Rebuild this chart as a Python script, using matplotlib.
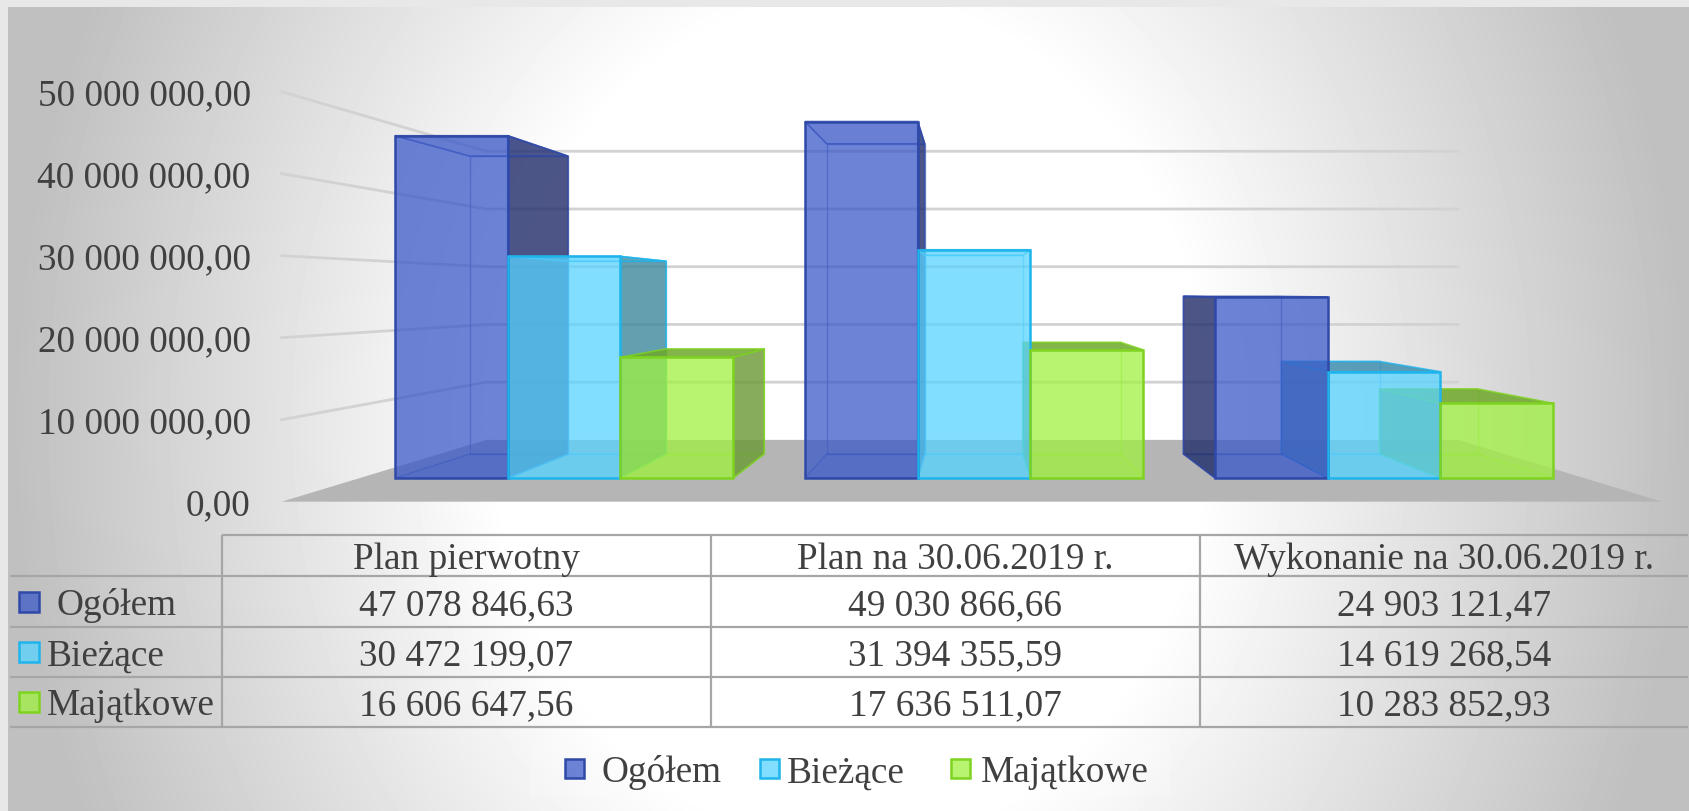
import numpy as np
import matplotlib
matplotlib.use("Agg")
import matplotlib.pyplot as plt
from matplotlib.colors import to_rgba
from matplotlib.patches import Polygon, Rectangle

# ---------- data ----------
categories = ["Plan pierwotny", "Plan na 30.06.2019 r.", "Wykonanie na 30.06.2019 r."]
series_names = ["Ogółem", "Bieżące", "Majątkowe"]
ogolem = [47078846.63, 49030866.66, 24903121.47]
biezace = [30472199.07, 31394355.59, 14619268.54]
majatkowe = [16606647.56, 17636511.07, 10283852.93]
axis_ticks = [0, 10000000, 20000000, 30000000, 40000000, 50000000]

# ---------- style / layout ----------
plt.rcParams["font.family"] = ["Liberation Serif", "DejaVu Serif"]
TXT = "#404040"
FS = 26.8
GRID = "#D2D2D2"
TBL = "#A6A6A6"
front_c = ["#3C5AC8", "#58D3FF", "#A0F140"]
edge_c = ["#2F49A8", "#1FB4EC", "#7ED321"]
side_c = ["#24306C", "#3F8A9E", "#6C9A38"]
top_c = ["#24306C", "#3F8FB0", "#6FA82A"]

W, H = 1690, 812
XV, YV = 972.0, 294.0            # vanishing point
Y0, PX_PER = 479.0, 7.27e-6      # front plane of bars
S_FLOOR, S_BACK, S_WALL = 1.128, 0.87, 0.794
X_L, X_R = 360.0, 1584.0         # floor extent on the bar plane
GROUP_LEFT, GROUP_STEP, BAR_W = 395.0, 410.0, 112.7
TXT_DY = -1


def proj(x, value, s=1.0):
    y = Y0 - value * PX_PER
    return XV + (x - XV) * s, YV + (y - YV) * s


def fmt(v, dec=2):
    s = f"{v:,.{dec}f}"
    return s.replace(",", " ").replace(".", ",")


fig = plt.figure(figsize=(W / 100, H / 100), dpi=100)
ax = fig.add_axes([0, 0, 1, 1])
ax.set_xlim(0, W)
ax.set_ylim(H, 0)
ax.axis("off")

# background gradient
yy, xx = np.mgrid[0:H, 0:W]
t = np.sqrt(((xx - 850) / 840.0) ** 2 + ((yy - 420) / 1000.0) ** 2)
g = 1 - 0.25 * np.clip((t - 0.42) / 0.58, 0, 1)
ax.imshow(g, extent=(0, W, H, 0), cmap="gray", vmin=0, vmax=1, aspect="auto", zorder=0)
ax.add_patch(Rectangle((0, 0), W, 8, fc="#E8E8E8", ec="none", zorder=1))
ax.add_patch(Rectangle((0, 0), 8, H, fc="#E8E8E8", ec="none", zorder=1))

# gridlines and value labels
for v in axis_ticks:
    x1, y1 = proj(X_L, v, S_FLOOR)
    x2, y2 = proj(X_L, v, S_WALL)
    x3, y3 = proj(X_R, v, S_WALL)
    if v > 0:
        ax.plot([x1, x2, x3], [y1, y2, y3], color=GRID, lw=2.0, zorder=2,
                solid_joinstyle="round")
    ax.text(x1 - 31, y1 + TXT_DY, fmt(v), ha="right", va="center_baseline", fontsize=FS,
            color=TXT, zorder=6)

# floor
ax.add_patch(Polygon([proj(X_L, 0, S_FLOOR), proj(X_R, 0, S_FLOOR),
                      proj(X_R, 0, S_WALL), proj(X_L, 0, S_WALL)],
                     closed=True, fc="#B5B5B5", ec="none", zorder=3))

# bars
values = [ogolem, biezace, majatkowe]
bars = []
for i in range(len(categories)):
    for j in range(len(series_names)):
        left = GROUP_LEFT + i * GROUP_STEP + j * BAR_W
        bars.append((left, values[j][i], j))
bars.sort(key=lambda b: -abs(b[0] + BAR_W / 2 - XV))


def face(pts, fc, alpha, ec, z, lw=1.4, ea=1.0):
    ax.add_patch(Polygon(pts, closed=True, facecolor=to_rgba(fc, alpha),
                         edgecolor=to_rgba(ec, ea), lw=lw, zorder=z, joinstyle="miter"))


z = 4.0
for left, v, j in bars:
    r = left + BAR_W
    c, e, sc, tc = front_c[j], edge_c[j], side_c[j], top_c[j]
    fl, fr = proj(left, v), proj(r, v)
    fl0, fr0 = proj(left, 0), proj(r, 0)
    bl, br = proj(left, v, S_BACK), proj(r, v, S_BACK)
    bl0, br0 = proj(left, 0, S_BACK), proj(r, 0, S_BACK)
    face([bl0, br0, br, bl], c, 0.0, e, z, lw=1.0, ea=0.5); z += 0.001
    face([fl0, fr0, br0, bl0], c, 0.12, e, z, lw=1.0, ea=0.5); z += 0.001
    if br[0] > fr[0]:
        face([fr0, br0, br, fr], sc, 0.82, e, z, lw=1.2, ea=0.8); z += 0.001
    if bl[0] < fl[0]:
        face([fl0, bl0, bl, fl], sc, 0.82, e, z, lw=1.2, ea=0.8); z += 0.001
    above = bl[1] < fl[1]
    face([fl, fr, br, bl], tc if above else c, 0.85 if above else 0.1, e, z, lw=1.2, ea=0.8); z += 0.001
    ax.add_patch(Polygon([fl0, fr0, fr, fl], closed=True, fc=to_rgba(c, 0.75), ec="none", zorder=z))
    z += 0.001

# front outlines: the shorter bar's outline lies on top where two bars touch
for left, v, j in sorted(bars, key=lambda b: -b[1]):
    r = left + BAR_W
    ax.add_patch(Polygon([proj(left, 0), proj(r, 0), proj(r, v), proj(left, v)], closed=True,
                         fc="none", ec=edge_c[j], lw=1.8, zorder=z, joinstyle="miter"))
    z += 0.001

# table
col_x = [222, 711, 1200, 1688]
row_y = [536, 577, 628, 678, 728]
tk = dict(color=TBL, lw=1.6, zorder=5, solid_capstyle="butt")
ax.plot([col_x[0], col_x[-1]], [row_y[0]] * 2, **tk)
for y in row_y[1:]:
    ax.plot([10, col_x[-1]], [y, y], **tk)
for x in col_x[:-1]:
    ax.plot([x, x], [row_y[0], row_y[-1]], **tk)

for k, name in enumerate(categories):
    ax.text((col_x[k] + col_x[k + 1]) / 2, (row_y[0] + row_y[1]) / 2 + TXT_DY, name, ha="center",
            va="center_baseline", fontsize=FS, color=TXT, zorder=6)
for r_i, ser in enumerate(values):
    cy = (row_y[r_i + 1] + row_y[r_i + 2]) / 2
    for k, v in enumerate(ser):
        ax.text((col_x[k] + col_x[k + 1]) / 2, cy + TXT_DY, fmt(v), ha="center",
                va="center_baseline", fontsize=FS, color=TXT, zorder=6)
    ax.add_patch(Rectangle((19.5, cy - 10), 20, 20, fc=to_rgba(front_c[r_i], 0.75),
                           ec=edge_c[r_i], lw=1.8, zorder=6))
    ax.text(57 if r_i == 0 else 47, cy + TXT_DY, series_names[r_i], ha="left",
            va="center_baseline", fontsize=FS, color=TXT, zorder=6)

# legend
ax.add_patch(Rectangle((530, 742), 640, 56, fc=(1, 1, 1, 0.2), ec="none", zorder=1.5))
swatch_x = [565, 760, 951]
label_x = [602, 787, 981]
for j, name in enumerate(series_names):
    ax.add_patch(Rectangle((swatch_x[j], 760), 19, 19, fc=to_rgba(front_c[j], 0.75),
                           ec=edge_c[j], lw=1.8, zorder=6))
    ax.text(label_x[j], 770 + TXT_DY, name, ha="left", va="center_baseline", fontsize=FS,
            color=TXT, zorder=6)

fig.savefig("out.png", dpi=100)
